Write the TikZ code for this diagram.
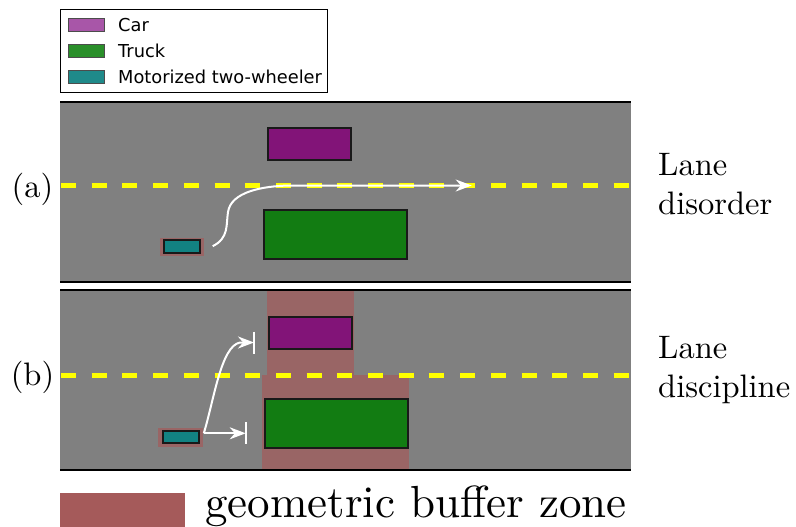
\documentclass[tikz,border=0pt]{standalone}
\usepackage{fontspec}
\newfontfamily\legendfont{DejaVu Sans}
\newfontfamily\tenroman{lmroman10-regular.otf}
\usetikzlibrary{calc, arrows.meta, positioning}

\definecolor{roadgray}{HTML}{808080}
\definecolor{laneyellow}{HTML}{FFFF00}
\definecolor{carpurple}{HTML}{821478}
\definecolor{truckgreen}{HTML}{127C12}
\definecolor{biketeal}{HTML}{128282}
\definecolor{bufferred}{HTML}{A55A5A}
\definecolor{carlight}{HTML}{A856A8}
\definecolor{trucklight}{HTML}{2A8F2A}
\definecolor{bikelight}{HTML}{1F8A8A}

\begin{document}
\begin{tikzpicture}[x=1pt, y=-1pt,
    road/.style={fill=roadgray},
    roadedge/.style={line width=2.2pt, black},
    laneline/.style={line width=5pt, laneyellow, dash pattern=on 15pt off 15.7pt},
    vehicle/.style={draw=black!90, line width=2pt, inner sep=0pt},
    carbox/.style={vehicle, fill=carpurple, minimum width=83pt, minimum height=32pt},
    truckbox/.style={vehicle, fill=truckgreen, minimum width=143pt, minimum height=49pt},
    bikebox/.style={vehicle, fill=biketeal, minimum width=36pt, minimum height=12.5pt},
    bufzone/.style={fill=bufferred, fill opacity=0.7},
    path/.style={white, line width=2pt, -{Stealth[length=16pt, width=12pt]}},
    stopbar/.style={white, line width=2pt},
    swatch/.style={draw=black!70, line width=0.8pt, minimum width=36pt, minimum height=13pt, inner sep=0pt},
    legendtext/.style={font=\legendfont\fontsize{17.8}{20}\selectfont, inner sep=0pt, anchor=west},
    sidelabel/.style={font=\tenroman\fontsize{32.5}{39}\selectfont, inner sep=0pt}]
    \useasboundingbox (0,0) rectangle (796,527);

    % 1. Chú thích
    \draw[line width=1pt] (60,10) rectangle (327,93);
    \node[swatch, fill=carlight] (carKey) at (86,25) {};
    \node[swatch, fill=trucklight] (truckKey) at (86,50.5) {};
    \node[swatch, fill=bikelight] (bikeKey) at (86,76.5) {};
    \node[legendtext] (carName) at (118,25) {Car};
    \node[legendtext] (truckName) at (118,50.5) {Truck};
    \node[legendtext] (bikeName) at (118,76.5) {Motorized two-wheeler};

    % 2. Mặt đường
    \fill[road] (60,102) rectangle (631,282);
    \fill[road] (60,290) rectangle (631,470);

    % 3. Vùng đệm
    \fill[bufzone] (160,237.7) rectangle (204.3,255.7);
    \fill[bufzone] (158,428.3) rectangle (202.7,446.7);
    \fill[bufzone] (267,291) rectangle (354,375);
    \fill[bufzone] (262,375) rectangle (409,469);

    % 4. Vạch chia làn
    \draw[laneline] (61,185.7) -- (630,185.7);
    \draw[laneline] (61,375) -- (630,375);

    % 5. Xe (a)
    \node[carbox] (carA) at (309.5,144) {};
    \node[truckbox] (truckA) at (335.5,234.5) {};
    \node[bikebox] (bikeA) at (182.2,246.7) {};

    % 6. Xe (b)
    \node[carbox] (carB) at (310.3,332.7) {};
    \node[truckbox] (truckB) at (336,423.3) {};
    \node[bikebox] (bikeB) at (180.8,437) {};

    % 7. Quỹ đạo
    \coordinate (startA) at ($(bikeA.east)+(11.5,-0.5)$);
    \coordinate (goalA) at (471.7,185.5);
    \draw[path] (startA) .. controls (229,238) and (226,225) .. (228,212)
        .. controls (231,192) and (262,186) .. (290,185.5) -- (goalA);

    \coordinate (startB) at ($(bikeB.east)+(4,-3.7)$);
    \coordinate (stopCar) at (254,342.5);
    \coordinate (stopTruck) at (245.7,433.3);
    \draw[path] (startB) .. controls (214,400) and (221,346) .. (240,342.5) -- (stopCar);
    \draw[path] (startB) -- (stopTruck);
    \draw[stopbar] ($(stopCar)+(0,-11)$) -- ($(stopCar)+(0,11)$);
    \draw[stopbar] ($(stopTruck)+(0,-11)$) -- ($(stopTruck)+(0,11)$);

    % 8. Mép đường
    \draw[roadedge] (60,102) -- (631,102);
    \draw[roadedge] (60,282) -- (631,282);
    \draw[roadedge] (60,290) -- (631,290);
    \draw[roadedge] (60,470) -- (631,470);

    % 9. Nhãn
    \node[sidelabel, anchor=base] (labelA) at (32.5,197) {(a)};
    \node[sidelabel, anchor=base] (labelB) at (32.5,385) {(b)};
    \node[sidelabel, anchor=base west] (laneA) at (658,175.2) {Lane};
    \node[sidelabel, anchor=base west] (disorder) at ($(laneA.base west)+(0,39)$) {disorder};
    \node[sidelabel, anchor=base west] (laneB) at (658,358.3) {Lane};
    \node[sidelabel, anchor=base west] (discipline) at ($(laneB.base west)+(0,39)$) {discipline};

    % 10. Vùng đệm hình học
    \fill[bufferred] (60,493.3) rectangle (185,527);
    \node[font=\tenroman\fontsize{45}{54}\selectfont, inner sep=0pt, anchor=base west] (bufferName) at (205,517) {geometric buffer zone};
\end{tikzpicture}
\end{document}
